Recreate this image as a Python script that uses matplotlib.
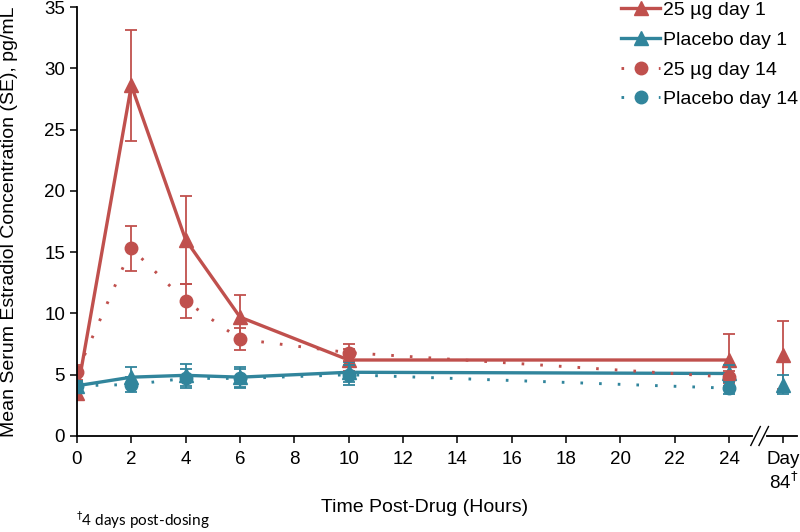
import numpy as np
import matplotlib.pyplot as plt
from matplotlib.lines import Line2D

plt.rcParams['font.family'] = ['Liberation Sans', 'DejaVu Sans']

RED = '#C0504D'
TEAL = '#31859C'

hours = [0, 2, 4, 6, 10, 24]
day84_pos = 26
tick_pos = [0, 2, 4, 6, 8, 10, 12, 14, 16, 18, 20, 22, 24, 26]
tick_labels = ['0', '2', '4', '6', '8', '10', '12', '14', '16', '18', '20', '22', '24',
               'Day\n84$^{\\dagger}$']

# 25 ug day 1
red_d1 = [3.5, 28.6, 16.0, 9.7, 6.2, 6.2]
red_d1_se = [0.5, 4.5, 3.6, 1.8, 0.9, 2.1]
red_d1_84 = 6.6
red_d1_84_se = 2.8
# placebo day 1
teal_d1 = [4.1, 4.8, 4.95, 4.8, 5.2, 5.1]
teal_d1_se = [0.4, 0.8, 0.9, 0.8, 0.8, 0.7]
teal_d1_84 = 4.2
teal_d1_84_se = 0.8
# 25 ug day 14
red_d14 = [5.2, 15.3, 11.0, 7.9, 6.8, 4.8]
red_d14_se = [0.6, 1.8, 1.4, 0.9, 0.7, 0.5]
# placebo day 14
teal_d14 = [4.1, 4.2, 4.7, 4.7, 5.0, 3.9]
teal_d14_se = [0.4, 0.6, 0.8, 0.8, 0.8, 0.5]

fig = plt.figure(figsize=(8, 5.32), dpi=100)
ax = fig.add_axes([77/800, 1-436/532, 720/800, 429/532])

dots = (0, (0.9, 5.5))
ebkw = dict(fmt='none', elinewidth=1.3, capsize=4, capthick=1.3)

ax.errorbar(hours, red_d1, yerr=red_d1_se, ecolor=RED, **ebkw)
ax.errorbar([day84_pos], [red_d1_84], yerr=[red_d1_84_se], ecolor=RED, **ebkw)
l1, = ax.plot(hours, red_d1, color=RED, lw=2.4, marker='^', ms=9.5, label='25 µg day 1')
ax.plot([day84_pos], [red_d1_84], color=RED, marker='^', ms=9.5, ls='none')

ax.errorbar(hours, teal_d1, yerr=teal_d1_se, ecolor=TEAL, **ebkw)
ax.errorbar([day84_pos], [teal_d1_84], yerr=[teal_d1_84_se], ecolor=TEAL, **ebkw)
l2, = ax.plot(hours, teal_d1, color=TEAL, lw=2.4, marker='^', ms=9.5, label='Placebo day 1')
ax.plot([day84_pos], [teal_d1_84], color=TEAL, marker='^', ms=9.5, ls='none')

ax.errorbar(hours, red_d14, yerr=red_d14_se, ecolor=RED, **ebkw)
l3, = ax.plot(hours, red_d14, color=RED, lw=2.1, ls=dots, marker='o', ms=9,
              label='25 µg day 14')

ax.errorbar(hours, teal_d14, yerr=teal_d14_se, ecolor=TEAL, **ebkw)
l4, = ax.plot(hours, teal_d14, color=TEAL, lw=2.1, ls=dots, marker='o', ms=9,
              label='Placebo day 14')

ax.set_xlim(0, 26.5)
ax.set_ylim(0, 35)
ax.set_yticks(range(0, 36, 5))
ax.set_xticks(tick_pos)
ax.set_xticklabels(tick_labels)
ax.tick_params(labelsize=13.5, length=5, width=1.1, direction='out', colors='black')
ax.tick_params(axis='x', pad=6)
ax.spines['top'].set_visible(False)
ax.spines['right'].set_visible(False)
ax.spines['left'].set_linewidth(1.3)
ax.spines['bottom'].set_linewidth(1.3)

# axis break between 24 h and day 84
tr = ax.get_xaxis_transform()
ax.plot([24.95, 25.3], [0, 0], color='white', lw=3, transform=tr, clip_on=False, zorder=5)
ax.plot([24.8, 25.15], [-0.022, 0.022], color='black', lw=1, transform=tr, clip_on=False, zorder=6)
ax.plot([25.1, 25.45], [-0.022, 0.022], color='black', lw=1, transform=tr, clip_on=False, zorder=6)

fig.text(10/800, 1-222/532, 'Mean Serum Estradiol Concentration (SE), pg/mL',
         rotation=90, ha='center', va='center', fontsize=14)
fig.text(425/800, 1-508/532, 'Time Post-Drug (Hours)', ha='center', va='center', fontsize=14)
fig.text(76/800, 1-520/532, '$^{\\dagger}$4 days post-dosing', ha='left', va='center',
         fontsize=11, family=['Lato', 'DejaVu Sans'])

ax.legend(handles=[l1, l2, l3, l4], loc='upper right', bbox_to_anchor=(0.998, 0.997),
          bbox_transform=fig.transFigure, frameon=False, fontsize=14,
          handlelength=2.0, handletextpad=0.15, labelspacing=0.62, borderaxespad=0.0,
          borderpad=0.0)

plt.savefig('out.png', dpi=100)
